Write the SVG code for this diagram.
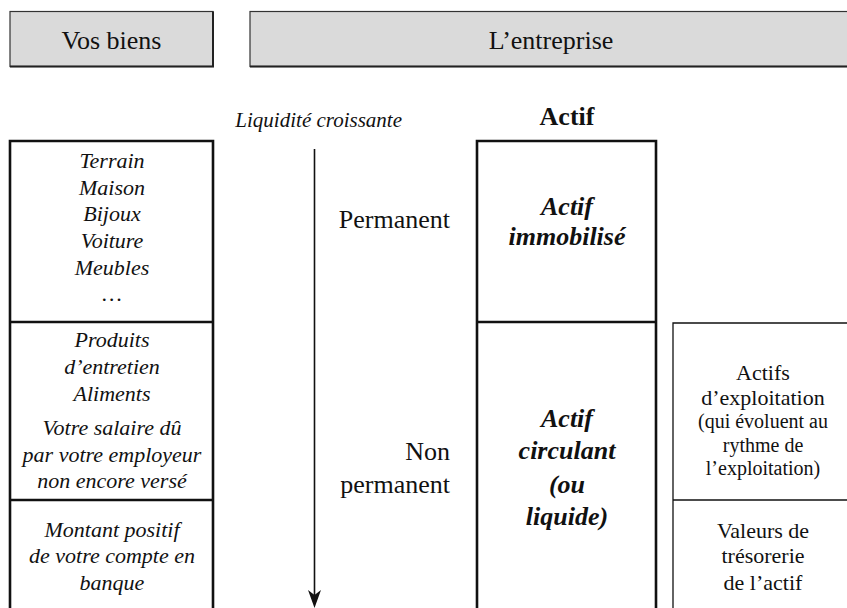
<svg xmlns="http://www.w3.org/2000/svg" width="847" height="608" viewBox="0 0 847 608">
  <style>
    text { font-family: "Liberation Serif", "Times New Roman", serif; fill: #111; }
    .hdr { font-size: 26px; text-anchor: middle; }
    .hdrbox { fill: #dadada; stroke: #333; stroke-width: 1.2; }
    .shadow { stroke: #222; stroke-width: 2; fill: none; }
    .col { fill: none; stroke: #111; stroke-width: 2.6; }
    .thin { fill: none; stroke: #111; stroke-width: 1.3; }
    .item { font-size: 22px; font-style: italic; text-anchor: middle; }
    .big { font-size: 26px; }
    .bi { font-size: 26px; font-weight: bold; font-style: italic; text-anchor: middle; }
    .rt { font-size: 22px; text-anchor: middle; }
    .rts { font-size: 20px; text-anchor: middle; }
    .axis { stroke: #111; stroke-width: 1.6; fill: none; }
  </style>
  <defs>
    <marker id="arrowhead" markerWidth="14" markerHeight="20" refX="7" refY="18" orient="auto-start-reverse" markerUnits="userSpaceOnUse" viewBox="0 0 14 20">
      <path d="M0,0 L7,4 L14,0 L7,18 Z" fill="#111" transform="rotate(-90 7 9)"/>
    </marker>
  </defs>

  <rect width="847" height="608" fill="#fff"/>

  <!-- header: Vos biens -->
  <g id="hdr-biens">
    <rect class="hdrbox" x="10" y="11.5" width="203" height="55"/>
    <path class="shadow" d="M10,66.5 H213 V11.5"/>
    <text class="hdr" x="111.5" y="49">Vos biens</text>
  </g>

  <!-- header: L'entreprise -->
  <g id="hdr-entreprise">
    <rect class="hdrbox" x="250" y="11.5" width="610" height="55"/>
    <path class="shadow" d="M250,66.5 H860"/>
    <text class="hdr" x="551" y="49">L’entreprise</text>
  </g>

  <!-- left column: personal goods -->
  <g id="biens-permanents">
    <path class="col" d="M10,612 V141 H213 V612"/>
    <text class="item" x="112" y="168">Terrain</text>
    <text class="item" x="112" y="194.5">Maison</text>
    <text class="item" x="112" y="221">Bijoux</text>
    <text class="item" x="112" y="248">Voiture</text>
    <text class="item" x="112" y="274.5">Meubles</text>
    <text class="item" x="112" y="301">…</text>
  </g>
  <g id="biens-circulants">
    <path class="col" d="M10,322 H213"/>
    <text class="item" x="112" y="347">Produits</text>
    <text class="item" x="112" y="374">d’entretien</text>
    <text class="item" x="112" y="401">Aliments</text>
    <text class="item" x="112" y="435">Votre salaire dû</text>
    <text class="item" x="112" y="462">par votre employeur</text>
    <text class="item" x="112" y="488">non encore versé</text>
  </g>
  <g id="biens-banque">
    <path class="col" d="M10,500 H213"/>
    <text class="item" x="112" y="537">Montant positif</text>
    <text class="item" x="112" y="563">de votre compte en</text>
    <text class="item" x="112" y="590">banque</text>
  </g>

  <!-- liquidity axis -->
  <g id="axis-label">
    <text x="402" y="127" font-size="21" font-style="italic" text-anchor="end">Liquidité croissante</text>
    <text class="big" x="450" y="228" text-anchor="end">Permanent</text>
    <text class="big" x="450" y="460" text-anchor="end">Non</text>
    <text class="big" x="450" y="493" text-anchor="end">permanent</text>
  </g>

  <!-- asset column -->
  <g id="actif">
    <text x="567" y="125" font-size="26" font-weight="bold" text-anchor="middle">Actif</text>
    <path class="col" d="M477,612 V141 H656 V612"/>
  </g>
  <g id="actif-immobilise">
    <text class="bi" x="567" y="215">Actif</text>
    <text class="bi" x="567" y="245">immobilisé</text>
  </g>
  <g id="actif-circulant">
    <path class="col" d="M477,322 H656"/>
    <text class="bi" x="567" y="427">Actif</text>
    <text class="bi" x="567" y="459">circulant</text>
    <text class="bi" x="567" y="493">(ou</text>
    <text class="bi" x="567" y="525">liquide)</text>
  </g>

  <!-- right column: breakdown of current assets -->
  <g id="actifs-exploitation">
    <path class="thin" d="M673,612 V323 H860"/>
    <text class="rt" x="763" y="380">Actifs</text>
    <text class="rt" x="763" y="405">d’exploitation</text>
    <text class="rts" x="763" y="428">(qui évoluent au</text>
    <text class="rts" x="763" y="452">rythme de</text>
    <text class="rts" x="763" y="475">l’exploitation)</text>
  </g>
  <g id="valeurs-tresorerie">
    <path class="thin" d="M673,500 H860"/>
    <text class="rt" x="763" y="538">Valeurs de</text>
    <text class="rt" x="763" y="563">trésorerie</text>
    <text class="rt" x="763" y="590">de l’actif</text>
  </g>

  <!-- connectors -->
  <g id="connectors">
    <line class="axis" x1="314.5" y1="149" x2="314.5" y2="600"/>
    <path d="M314.5,608 L308,590 L314.5,595 L321,590 Z" fill="#111"/>
  </g>
</svg>
